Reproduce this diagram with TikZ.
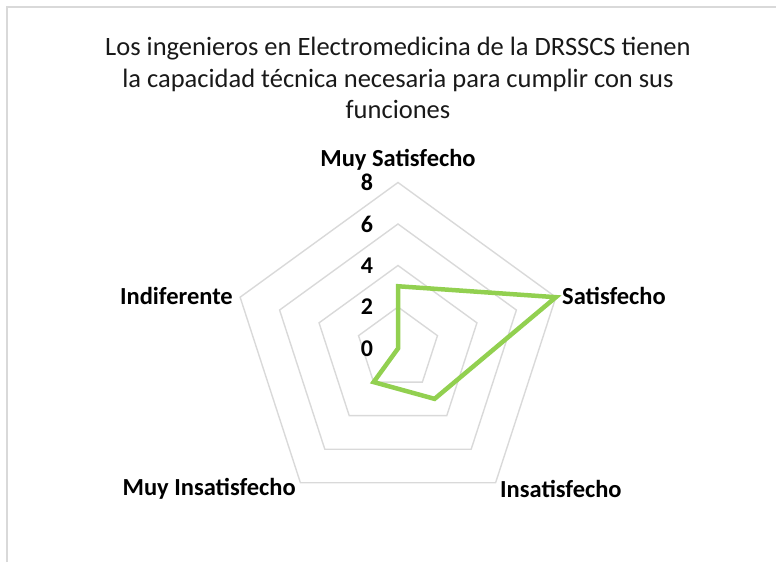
\documentclass[tikz,border=0pt]{standalone}
\usepackage{fontspec}
\setmainfont{Carlito}
\usetikzlibrary{positioning}
\definecolor{gridgray}{HTML}{D9D9D9}
\definecolor{framegray}{HTML}{D9D9D9}
\definecolor{serieverde}{HTML}{92D050}
\tikzset{grid line/.style={draw=gridgray,line width=1.4pt},
            axis label/.style={font=\bfseries\fontsize{24.5}{28}\selectfont,inner sep=0pt},
            tick label/.style={font=\bfseries\fontsize{24}{28}\selectfont,inner sep=0pt},
            chart title/.style={font=\fontsize{26.5}{31.5}\selectfont,align=center,text=black!90,inner sep=0pt},
            serie/.style={draw=serieverde,line width=4.5pt,line join=miter},
            }

\begin{document}
\begin{tikzpicture}[x=1pt,y=1pt]
    \useasboundingbox (-398,-213.5) rectangle (378,348.5);
    \draw[framegray,line width=2pt] (-391,-213.5) -- (-391,341.5) -- (378,341.5);

    % pentagons
    \foreach \r in {2,4,6,8}
        \draw[grid line] (90:{\r*20.75}) -- (18:{\r*20.75}) -- (-54:{\r*20.75})
            -- (-126:{\r*20.75}) -- (162:{\r*20.75}) -- cycle;

    \foreach \v in {0,2,4,6,8}
        \node[tick label] (t\v) at (-31,{\v*20.75}) {\v};

    \node[chart title] (titulo) at (0,270.5) {Los ingenieros en Electromedicina de la DRSSCS tienen\\la capacidad técnica necesaria para cumplir con sus\\funciones};

    \node[axis label] (ms) at (0,188.5) {Muy Satisfecho};
    \node[axis label,anchor=west] (s) at (164,52.5) {Satisfecho};
    \node[axis label,anchor=west] (ins) at (102,-140.5) {Insatisfecho};
    \node[axis label,anchor=east] (mi) at (-102,-140.5) {Muy Insatisfecho};
    \node[axis label,anchor=east] (ind) at (-165,52.5) {Indiferente};

    \coordinate (d1) at (90:{3*20.75});
    \coordinate (d2) at (18:{8*20.75});
    \coordinate (d3) at (-54:{3*20.75});
    \coordinate (d4) at (-126:{2*20.75});
    \coordinate (d5) at (162:0);
    \draw[serie] (d1) -- (d2) -- (d3) -- (d4) -- (d5) -- cycle;

\end{tikzpicture}
\end{document}
